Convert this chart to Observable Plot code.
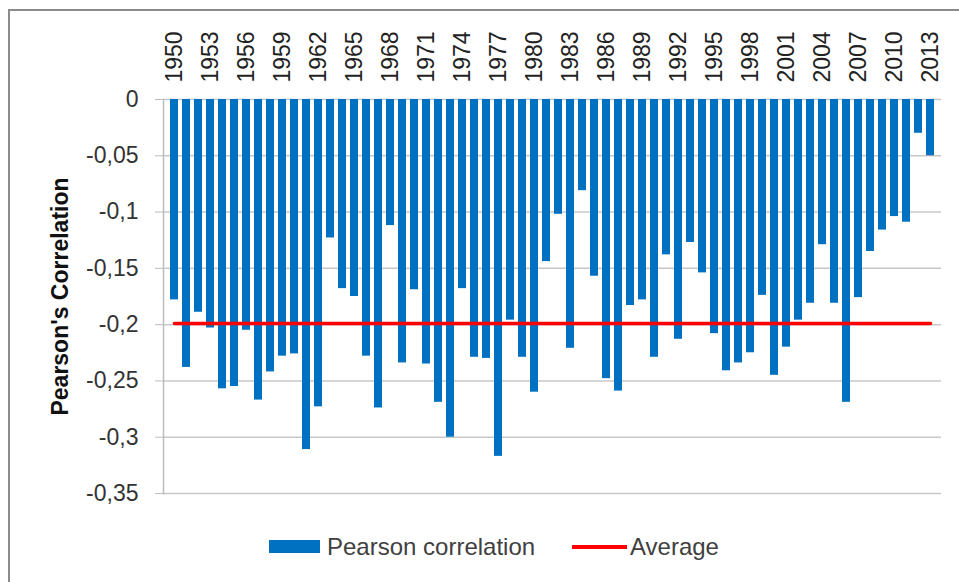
<!DOCTYPE html>
<html>
<head>
<meta charset="utf-8">
<script src="https://cdn.jsdelivr.net/npm/d3@7"></script>
<script src="https://cdn.jsdelivr.net/npm/@observablehq/plot@0.6"></script>
<style>
  html, body { margin: 0; padding: 0; background: #fff; overflow: hidden; }
  #wrap { position: relative; width: 959px; height: 582px; overflow: hidden; font-family: "Liberation Sans", Arial, sans-serif; }
  #border { position: absolute; left: 8px; top: 9px; width: 1000px; height: 700px; border: 2px solid #8c8c8c; box-sizing: border-box; }
  #chart { position: absolute; left: 0; top: 0; }
  .leg { position: absolute; display: flex; align-items: center; font-size: 24px; color: #404040; white-space: nowrap; }
  .sw-bar { width: 51px; height: 13px; background: #0070C0; margin-right: 7px; }
  .sw-line { width: 55px; height: 4px; background: #FF0000; margin-right: 3px; }
</style>
</head>
<body>
<div id="wrap">
  <div id="border"></div>
  <div id="chart"></div>
  <div class="leg" style="left:269px; top:533px; height:27px;"><div class="sw-bar"></div><span id="lab1"></span></div>
  <div class="leg" style="left:572px; top:533px; height:27px;"><div class="sw-line"></div><span id="lab2"></span></div>
</div>
<script>
// ---- data ----
const years = [1950,1951,1952,1953,1954,1955,1956,1957,1958,1959,
               1960,1961,1962,1963,1964,1965,1966,1967,1968,1969,
               1970,1971,1972,1973,1974,1975,1976,1977,1978,1979,
               1980,1981,1982,1983,1984,1985,1986,1987,1988,1989,
               1990,1991,1992,1993,1994,1995,1996,1997,1998,1999,
               2000,2001,2002,2003,2004,2005,2006,2007,2008,2009,
               2010,2011,2012,2013];
const pearson = [-0.178,-0.238,-0.189,-0.203,-0.257,-0.255,-0.205,-0.267,-0.242,-0.228,
                 -0.226,-0.311,-0.273,-0.123,-0.168,-0.175,-0.228,-0.274,-0.112,-0.234,
                 -0.169,-0.235,-0.269,-0.300,-0.168,-0.229,-0.230,-0.317,-0.196,-0.229,
                 -0.260,-0.144,-0.102,-0.221,-0.081,-0.157,-0.248,-0.259,-0.183,-0.178,
                 -0.229,-0.138,-0.213,-0.127,-0.154,-0.208,-0.241,-0.234,-0.225,-0.174,
                 -0.245,-0.220,-0.196,-0.181,-0.129,-0.181,-0.269,-0.176,-0.135,-0.116,
                 -0.104,-0.109,-0.030,-0.050];
const average = -0.199;
const yearTicks = [1950,1953,1956,1959,1962,1965,1968,1971,1974,1977,1980,
                   1983,1986,1989,1992,1995,1998,2001,2004,2007,2010,2013];
const yTickValues = [0,-0.05,-0.1,-0.15,-0.2,-0.25,-0.3,-0.35];
const yTickLabels = ["0","-0,05","-0,1","-0,15","-0,2","-0,25","-0,3","-0,35"];
const seriesNames = ["Pearson correlation","Average"];
const yTitle = "Pearson's Correlation";

document.getElementById("lab1").textContent = seriesNames[0];
document.getElementById("lab2").textContent = seriesNames[1];

const table = years.map((y, i) => ({year: y, value: pearson[i]}));
const avgTable = years.map(y => ({year: y, value: average}));

const chart = Plot.plot({
  width: 959,
  height: 520,
  marginTop: 99,
  marginLeft: 163,
  marginRight: 18,
  marginBottom: 27,
  style: {fontFamily: "'Liberation Sans', Arial, sans-serif", fontSize: "23px", color: "#333", background: "transparent", overflow: "visible"},
  x: {type: "band", domain: years, paddingInner: 0.36, paddingOuter: 0.18},
  y: {domain: [-0.35, 0]},
  marks: [
    Plot.ruleY(yTickValues, {stroke: "#c8c8c8", strokeWidth: 1.5}),
    Plot.frame({anchor: "left", stroke: "#bdbdbd", strokeWidth: 1.5}),
    Plot.barY(table, {x: "year", y: "value", fill: "#0070C0"}),
    Plot.line(avgTable, {x: "year", y: "value", stroke: "#FF0000", strokeWidth: 3.5}),
    Plot.axisY({ticks: yTickValues, tickFormat: (d) => yTickLabels[yTickValues.indexOf(d)], tickSize: 8, tickPadding: 17, stroke: "#bdbdbd", fill: "#333", label: null}),
    Plot.axisX({anchor: "top", ticks: yearTicks, tickFormat: (d) => String(d), tickSize: 0, tickPadding: 17, tickRotate: -90, fill: "#222", label: null}),
    Plot.text([yTitle], {frameAnchor: "left", textAnchor: "middle", dx: -103, rotate: -90, fontWeight: "bold", fontSize: 23, fill: "#111"})
  ]
});
document.getElementById("chart").appendChild(chart);
</script>
</body>
</html>
